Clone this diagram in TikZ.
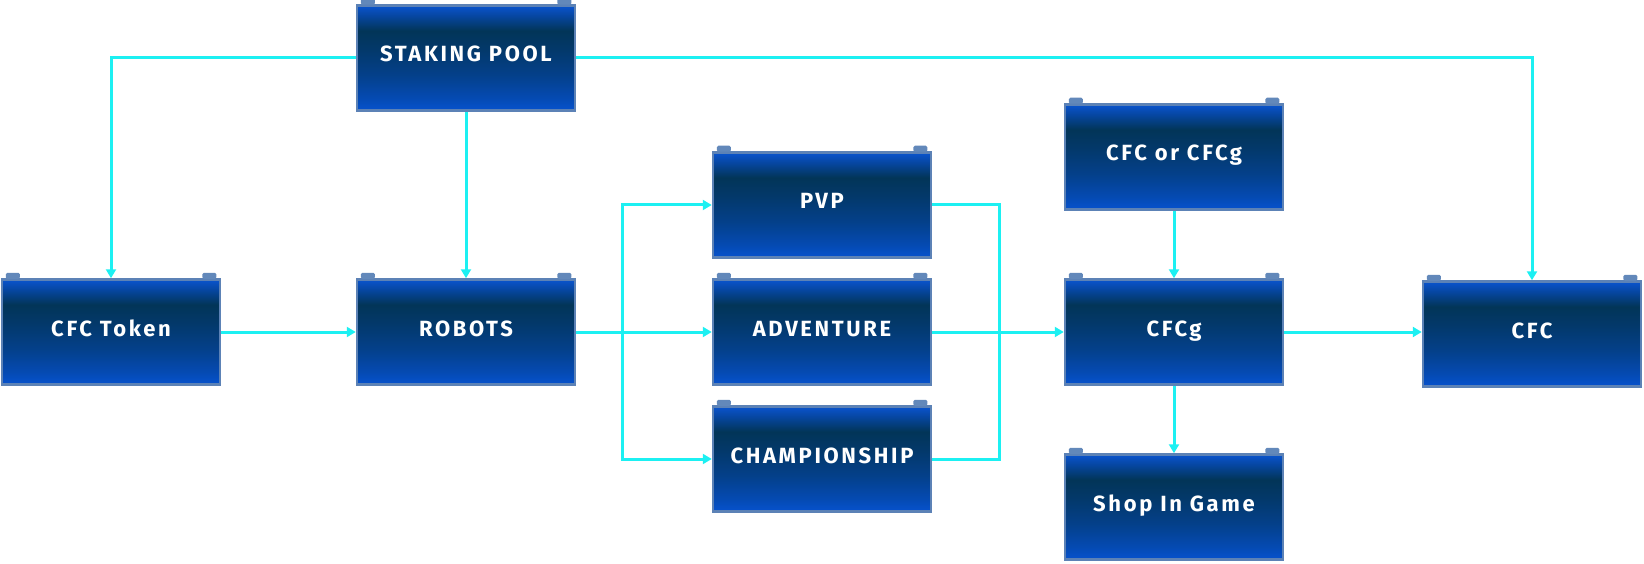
\documentclass[tikz,border=0pt]{standalone}
\usepackage{fontspec}
\setmainfont{Fira Sans}
\usetikzlibrary{arrows.meta}
\definecolor{flowline}{RGB}{28,240,242}
\definecolor{boxrim}{RGB}{92,130,182}
\definecolor{boxtab}{RGB}{98,136,186}
\pgfdeclareverticalshading{boxshade}{100bp}{%
  color(0bp)=(rgb,255:red,6;green,82;blue,206);
  color(25bp)=(rgb,255:red,6;green,82;blue,206);
  color(31bp)=(rgb,255:red,5;green,74;blue,178);
  color(42bp)=(rgb,255:red,4;green,64;blue,138);
  color(55bp)=(rgb,255:red,3;green,56;blue,104);
  color(63bp)=(rgb,255:red,2;green,53;blue,88);
  color(70bp)=(rgb,255:red,6;green,70;blue,160);
  color(75bp)=(rgb,255:red,10;green,84;blue,206);
  color(100bp)=(rgb,255:red,10;green,84;blue,206)}
\tikzset{
  gamebox/.style={draw=boxrim, line width=2.5pt, shading=boxshade,
    minimum width=218pt, minimum height=105pt, inner sep=0pt,
    text height=16pt, text depth=8pt,
    text=white, font=\addfontfeatures{LetterSpace=12}\fontsize{22}{26}\selectfont\bfseries},
  flow/.style={flowline, line width=3pt},
  flowarrow/.style={flow, -{Triangle[length=9pt,width=10pt]}}
}
\begin{document}
\begin{tikzpicture}[x=1pt, y=-1pt]
\useasboundingbox (0,0) rectangle (1644,564);
% boxes
\node[gamebox] (pool) at (466,58) {STAKING POOL};
\node[gamebox] (token) at (111,332) {CFC Token};
\node[gamebox] (robots) at (466,332) {ROBOTS};
\node[gamebox] (pvp) at (822,205) {PVP};
\node[gamebox] (adventure) at (822,332) {ADVENTURE};
\node[gamebox] (champ) at (822,459) {CHAMPIONSHIP};
\node[gamebox] (cfcor) at (1174,157) {CFC or CFCg};
\node[gamebox] (cfcg) at (1174,332) {CFCg};
\node[gamebox] (shop) at (1174,507) {Shop In Game};
\node[gamebox] (cfc) at (1532,334) {CFC};
\foreach \n in {pool,token,robots,pvp,adventure,champ,cfcor,cfcg,shop,cfc} {
  \fill[boxtab, rounded corners=1.5pt] ([xshift=5pt,yshift=-0.5pt]\n.north west) rectangle ++(14pt,6pt);
  \fill[boxtab, rounded corners=1.5pt] ([xshift=-5pt,yshift=-0.5pt]\n.north east) rectangle ++(-14pt,6pt);
}
% connectors
\coordinate (split) at (622,332);
\coordinate (merge) at (999,332);
\draw[flowarrow] (pool.west) -| (token.north);
\draw[flowarrow] (pool.east) -| (cfc.north);
\draw[flowarrow] (pool.south) -- (robots.north);
\draw[flowarrow] (token.east) -- (robots.west);
\draw[flowarrow] (robots.east) -- (adventure.west);
\draw[flowarrow] (split) |- (pvp.west);
\draw[flowarrow] (split) |- (champ.west);
\draw[flow] (pvp.east) -| (merge);
\draw[flow] (champ.east) -| (merge);
\draw[flowarrow] (adventure.east) -- (cfcg.west);
\draw[flowarrow] (cfcor.south) -- (cfcg.north);
\draw[flowarrow] (cfcg.south) -- (shop.north);
\draw[flowarrow] (cfcg.east) -- (cfcg.east -| cfc.west);
\end{tikzpicture}
\end{document}
